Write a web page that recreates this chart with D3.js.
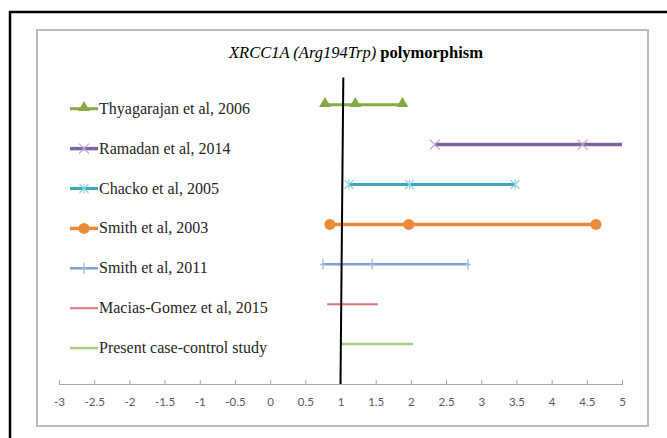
<!DOCTYPE html>
<html>
<head>
<meta charset="utf-8">
<script src="https://cdn.jsdelivr.net/npm/d3@7"></script>
<style>
  body { margin: 0; background: #fff; }
  svg { display: block; }
  .serif { font-family: "Liberation Serif", "Times New Roman", Times, serif; }
</style>
</head>
<body>
<div id="chart"></div>
<script>
// Study names, top to bottom, as in the legend
var studies = ["Thyagarajan et al, 2006", "Ramadan et al, 2014", "Chacko et al, 2005",
    "Smith et al, 2003", "Smith et al, 2011", "Macias-Gomez et al, 2015", "Present case-control study"];
// Row each study sits on (y value)
var rows = [7, 6, 5, 4, 3, 2, 1];
// Lower CI, odds ratio, upper CI
var lowCI = [0.78, 2.34, 1.12, 0.85, 0.75, 0.81, 1.01];
var oddsRatio = [1.21, 4.44, 1.98, 1.97, 1.45, 1.12, 1.39];
var highCI = [1.88, 5.9, 3.48, 4.63, 2.81, 1.53, 2.03];
// Reference line (OR = 1)
var refX = [1.0, 1.04];
var refY = [0, 7.68];
var xTicks = [-3, -2.5, -2, -1.5, -1, -0.5, 0, 0.5, 1, 1.5, 2, 2.5, 3, 3.5, 4, 4.5, 5];

var styles = [
    { color: "#84ab44", width: 3, marker: "triangle" },
    { color: "#8064a2", width: 3.5, marker: "x" },
    { color: "#3ea6bd", width: 3, marker: "star" },
    { color: "#ec8a3c", width: 3.5, marker: "circle" },
    { color: "#7fa0d4", width: 2.5, marker: "plus" },
    { color: "#dc7677", width: 2, marker: "none" },
    { color: "#a7cd88", width: 2.5, marker: "none" }
];

var W = 667, H = 438;
var svg = d3.select("#chart").append("svg").attr("width", W).attr("height", H);

// outer black frame (only top and left show)
svg.append("line").attr("x1", 9).attr("y1", 12).attr("x2", W).attr("y2", 12)
    .attr("stroke", "#000").attr("stroke-width", 2.5);
svg.append("line").attr("x1", 10).attr("y1", 11).attr("x2", 10).attr("y2", H)
    .attr("stroke", "#000").attr("stroke-width", 2.5);

// chart box
svg.append("rect").attr("x", 37).attr("y", 30).attr("width", 611).attr("height", 396)
    .attr("fill", "#fff").attr("stroke", "#bdbdbd").attr("stroke-width", 2);

var xScale = d3.scaleLinear().domain([-3, 5]).range([59, 622]);
var yScale = d3.scaleLinear().domain([0, 8]).range([384, 64.8]);

// title
var title = svg.append("text").attr("class", "serif").attr("x", 356).attr("y", 58)
    .attr("text-anchor", "middle")
    .style("font-size", "16.5px").attr("fill", "#000");
title.append("tspan").style("font-style", "italic").text("XRCC1A (Arg194Trp)");
title.append("tspan").style("font-weight", "bold").text(" polymorphism");

// x axis
var axis = d3.axisBottom(xScale).tickValues(xTicks).tickSize(0).tickPadding(14)
    .tickFormat(function (d) { return String(d); });
var axisG = svg.append("g").attr("transform", "translate(0," + yScale(0) + ")").call(axis);
axisG.select(".domain").attr("stroke", "#a6a6a6").attr("stroke-width", 1.2);
axisG.selectAll(".tick").append("line").attr("y1", -4).attr("y2", 1)
    .attr("stroke", "#a6a6a6").attr("stroke-width", 1);
axisG.selectAll(".tick text")
    .style("font-family", "Lato, 'Open Sans', sans-serif")
    .style("font-size", "11.5px").attr("fill", "#595959");

// clip to the plot range
svg.append("clipPath").attr("id", "plotClip").append("rect")
    .attr("x", xScale(-3)).attr("y", 40).attr("width", xScale(5) - xScale(-3)).attr("height", 360);
var plotG = svg.append("g").attr("clip-path", "url(#plotClip)");

function drawMarker(g, kind, cx, cy, color) {
    if (kind == "triangle") {
        g.append("path").attr("d", d3.symbol().type(d3.symbolTriangle).size(60))
            .attr("transform", "translate(" + cx + "," + (cy - 1) + ")").attr("fill", color);
    } else if (kind == "circle") {
        g.append("circle").attr("cx", cx).attr("cy", cy).attr("r", 5.5).attr("fill", color);
    } else if (kind == "x") {
        g.append("path").attr("d", "M-5,-5L5,5M-5,5L5,-5")
            .attr("transform", "translate(" + cx + "," + cy + ")")
            .attr("stroke", "#b9a8d0").attr("stroke-width", 1.2).attr("fill", "none");
    } else if (kind == "star") {
        g.append("path").attr("d", "M-4.5,-4.5L4.5,4.5M-4.5,4.5L4.5,-4.5M0,-5L0,5")
            .attr("transform", "translate(" + cx + "," + cy + ")")
            .attr("stroke", "#8fd0e0").attr("stroke-width", 1.2).attr("fill", "none");
    } else if (kind == "plus") {
        g.append("path").attr("d", "M0,-5.5L0,5.5M-3,0L3,0")
            .attr("transform", "translate(" + cx + "," + cy + ")")
            .attr("stroke", "#9db6de").attr("stroke-width", 1.2).attr("fill", "none");
    }
}

var line = d3.line().x(function (d) { return xScale(d.x); }).y(function (d) { return yScale(d.y); });

for (var i = 0; i < studies.length; i++) {
    var st = styles[i];
    var pts = [lowCI[i], oddsRatio[i], highCI[i]].map(function (v) { return { x: v, y: rows[i] }; });
    plotG.append("path").datum(pts)
        .attr("fill", "none").attr("stroke", st.color).attr("stroke-width", st.width)
        .attr("d", line);
    pts.forEach(function (p) {
        drawMarker(plotG, st.marker, xScale(p.x), yScale(p.y), st.color);
    });

    // legend entry
    var ly = yScale(rows[i]) + 4;
    svg.append("line").attr("x1", 70).attr("x2", 98).attr("y1", ly).attr("y2", ly)
        .attr("stroke", st.color).attr("stroke-width", st.width);
    drawMarker(svg, st.marker, 84, ly, st.color);
    svg.append("text").attr("class", "serif").attr("x", 99).attr("y", ly + 5)
        .style("font-size", "16px").attr("fill", "#262626")
        .text(studies[i]);
}

// OR = 1 reference line
svg.append("path")
    .datum(refX.map(function (v, k) { return { x: v, y: refY[k] }; }))
    .attr("fill", "none").attr("stroke", "#000").attr("stroke-width", 2)
    .attr("d", line);
</script>
</body>
</html>
